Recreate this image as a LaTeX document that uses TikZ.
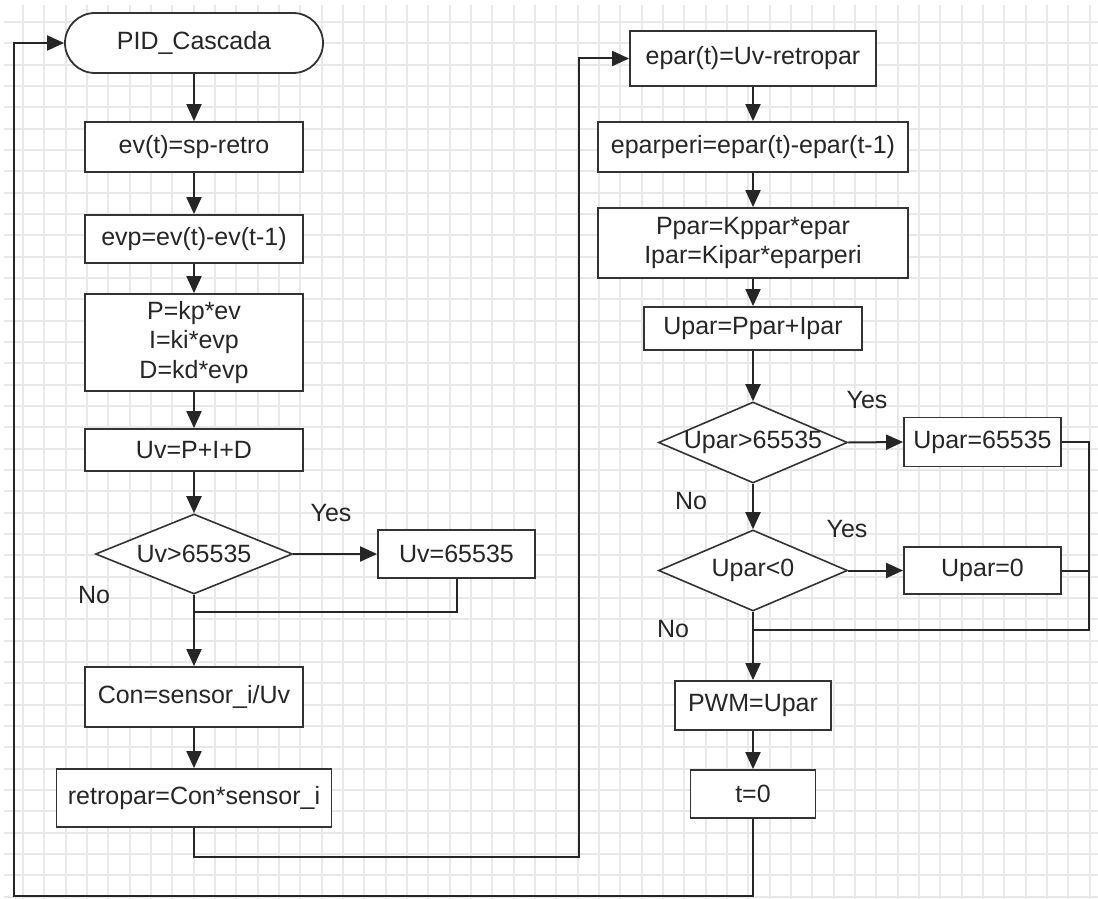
\documentclass[tikz,border=0pt]{standalone}
\usepackage{fontspec}
\setmainfont{Liberation Sans}
\usetikzlibrary{arrows.meta,shapes.geometric}
\begin{document}
\begin{tikzpicture}[x=1pt,y=-1pt,
  font=\fontsize{25}{29.5}\selectfont,
  box/.style={draw=black!80, line width=1.8pt, fill=white, inner sep=0pt, align=center, text=black!85},
  term/.style={box, rounded corners=30pt},
  dia/.style={draw=black!80, line width=1.6pt, fill=white, diamond, inner sep=0pt, text=black!85},
  lbl/.style={inner sep=0pt, text=black!85},
  gridline/.style={draw=black!9, line width=2pt},
  flow/.style={draw=black!85, line width=2pt},
  arr/.style={flow, -{Triangle[length=17pt,width=15pt]}},
]
\useasboundingbox (0,0) rectangle (1098,899);

% squared paper background
\begin{scope}
  \clip (4,5) rectangle (1098,899);
  \foreach \k in {0,...,50}
    \draw[gridline] ({23+21.333*\k},5) -- ({23+21.333*\k},899);
  \foreach \k in {0,...,41}
    \draw[gridline] (4,{22+21.333*\k}) -- (1098,{22+21.333*\k});
\end{scope}

% speed loop (left column)
\node[term, minimum width=258pt, minimum height=60pt] (start) at (194,43) {PID\_Cascada};
\node[box, minimum width=218pt, minimum height=50pt] (ev) at (194,147) {ev(t)=sp-retro};
\node[box, minimum width=218pt, minimum height=48pt] (evp) at (194,239) {evp=ev(t)-ev(t-1)};
\node[box, minimum width=218pt, minimum height=97pt] (pid) at (194,342.5) {P=kp*ev\\I=ki*evp\\D=kd*evp};
\node[box, minimum width=218pt, minimum height=42pt] (uv) at (194,450) {Uv=P+I+D};
\node[dia, minimum width=197pt, minimum height=80pt] (d1) at (194,554) {\makebox[0pt]{Uv>65535}};
\node[box, minimum width=157pt, minimum height=48pt] (sat1) at (456.5,554) {Uv=65535};
\node[box, minimum width=218pt, minimum height=60pt] (con) at (194,697) {Con=sensor\_i/Uv};
\node[box, minimum width=275pt, minimum height=58pt] (retro) at (194,798) {retropar=Con*sensor\_i};

% torque loop (right column)
\node[box, minimum width=246pt, minimum height=55pt] (epar) at (753,58.5) {epar(t)=Uv-retropar};
\node[box, minimum width=310pt, minimum height=50pt] (eperi) at (753,147) {eparperi=epar(t)-epar(t-1)};
\node[box, minimum width=310pt, minimum height=70pt] (ppar) at (753,243) {Ppar=Kppar*epar\\Ipar=Kipar*eparperi};
\node[box, minimum width=218pt, minimum height=43pt] (upar) at (753,328.5) {Upar=Ppar+Ipar};
\node[dia, minimum width=189pt, minimum height=81pt] (d2) at (753,442.5) {\makebox[0pt]{Upar>65535}};
\node[box, minimum width=157pt, minimum height=49pt] (sat2) at (982.5,442) {Upar=65535};
\node[dia, minimum width=189pt, minimum height=81pt] (d3) at (753,570.5) {\makebox[0pt]{Upar<0}};
\node[box, minimum width=157pt, minimum height=47pt] (zero) at (982.5,570.5) {Upar=0};
\node[box, minimum width=156pt, minimum height=49pt] (pwm) at (753,705.5) {PWM=Upar};
\node[box, minimum width=125pt, minimum height=48pt] (t0) at (753,794) {t=0};

% branch labels
\node[lbl] (yes1) at (331,513) {Yes};
\node[lbl] (no1) at (94,595) {No};
\node[lbl] (yes2) at (867,400) {Yes};
\node[lbl] (no2) at (691,501) {No};
\node[lbl] (yes3) at (847,529) {Yes};
\node[lbl] (no3) at (673,629) {No};

% routing points
\coordinate (m1) at (194,612);
\coordinate (c1) at (579,857);
\coordinate (c2) at (1089,630);
\coordinate (m2) at (753,630);
\coordinate (c3) at (14,896);

% connectors, left column
\draw[arr] (start.south) -- (ev.north);
\draw[arr] (ev.south) -- (evp.north);
\draw[arr] (evp.south) -- (pid.north);
\draw[arr] (pid.south) -- (uv.north);
\draw[arr] (uv.south) -- (d1.north);
\draw[arr] (d1.east) -- (sat1.west);
\draw[flow] (sat1.south) |- (m1);
\draw[arr] (d1.south) -- (con.north);
\draw[arr] (con.south) -- (retro.north);
\draw[arr] (retro.south) |- (c1) |- (epar.west);

% connectors, right column
\draw[arr] (epar.south) -- (eperi.north);
\draw[arr] (eperi.south) -- (ppar.north);
\draw[arr] (ppar.south) -- (upar.north);
\draw[arr] (upar.south) -- (d2.north);
\draw[arr] (d2.east) -- (sat2.west);
\draw[arr] (d2.south) -- (d3.north);
\draw[arr] (d3.east) -- (zero.west);
\draw[flow] (sat2.east) -| (c2) -- (m2);
\draw[flow] (zero.east) -- (zero.east -| c2);
\draw[arr] (d3.south) -- (pwm.north);
\draw[arr] (pwm.south) -- (t0.north);
\draw[arr] (t0.south) |- (c3) |- (start.west);
\end{tikzpicture}
\end{document}
